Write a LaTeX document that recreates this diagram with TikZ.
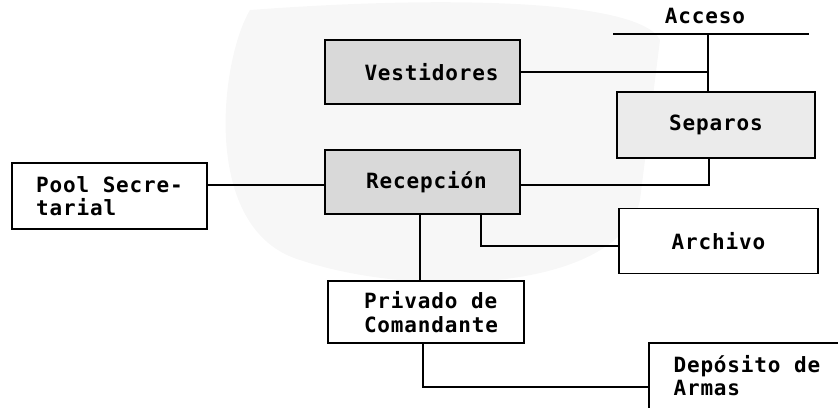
\documentclass[tikz,border=0pt]{standalone}
\usepackage{fontspec}
\newfontfamily\tw[LetterSpace=4]{DejaVu Sans Mono}
\usetikzlibrary{calc}
\tikzset{
  room/.style={draw, line width=1.5pt, inner sep=0pt, align=center,
    font=\tw\bfseries\fontsize{21}{23.5}\selectfont},
  dark/.style={fill=gray!30},
  mid/.style={fill=gray!16},
  wire/.style={line width=1.5pt},
  lbl/.style={inner sep=0pt, font=\tw\bfseries\fontsize{21}{23.5}\selectfont}
}
\begin{document}
\begin{tikzpicture}[x=1pt,y=-1pt]
\useasboundingbox (0,0) rectangle (838,407);
\clip (0,0) rectangle (838,407);
\fill[gray!6] (250,10) .. controls (450,-5) and (640,0) .. (660,40)
  -- (640,200) .. controls (620,290) and (420,300) .. (300,260)
  .. controls (200,230) and (220,60) .. (250,10);
% boxes
\node[room,dark,minimum width=195,minimum height=64] (ves) at (422.5,72) {\hspace*{18pt}Vestidores};
\node[room,mid,minimum width=198,minimum height=66] (sep) at (716,125) {Separos};
\node[room,dark,minimum width=195,minimum height=64] (rec) at (422.5,182) {\hspace*{8pt}Recepci\'on};
\node[room,fill=white,minimum width=195,minimum height=66,align=left] (pool) at (109.5,196) {Pool Secre-\\tarial};
\node[room,fill=white,minimum width=199,minimum height=65] (arch) at (718.5,241) {Archivo};
\node[room,fill=white,minimum width=196,minimum height=62,align=left] (priv) at (426,312) {\hspace*{10pt}Privado de\\\hspace*{10pt}Comandante};
\node[room,draw=none,fill=white,minimum width=200,minimum height=64,align=left,anchor=north west] (dep) at (649,343) {Dep\'osito de\\Armas\hspace*{6\fontcharwd\font`A}\hspace*{10pt}};
\draw[wire] (dep.south west) -- (dep.north west) -- (dep.north east);
% Acceso
\node[lbl] (acc) at (705,16) {Acceso};
\coordinate (accL) at (613,34);
\coordinate (accR) at (809,34);
\coordinate (accJ) at (708,34);
\draw[wire] (accL) -- (accR);
\draw[wire] (accJ) -- (accJ |- sep.north);
\draw[wire] (ves.east) -- (ves.east -| accJ);
% Separos to Recepcion
\coordinate (sepB) at (709,185);
\draw[wire] (sepB |- sep.south) -- (sepB) -- (sepB -| rec.east);
% Pool to Recepcion
\coordinate (poolJ) at (207,185);
\draw[wire] (rec.west |- poolJ) -- (poolJ);
% Recepcion to Archivo
\coordinate (archJ) at (481,246);
\draw[wire] (archJ |- rec.south) -- (archJ) -- (archJ -| arch.west);
% Recepcion to Privado
\coordinate (privJ) at (420,250);
\draw[wire] (privJ |- rec.south) -- (privJ |- priv.north);
% Privado to Deposito
\coordinate (depJ) at (423,387);
\draw[wire] (depJ |- priv.south) -- (depJ) -- (depJ -| dep.west);
\end{tikzpicture}
\end{document}
